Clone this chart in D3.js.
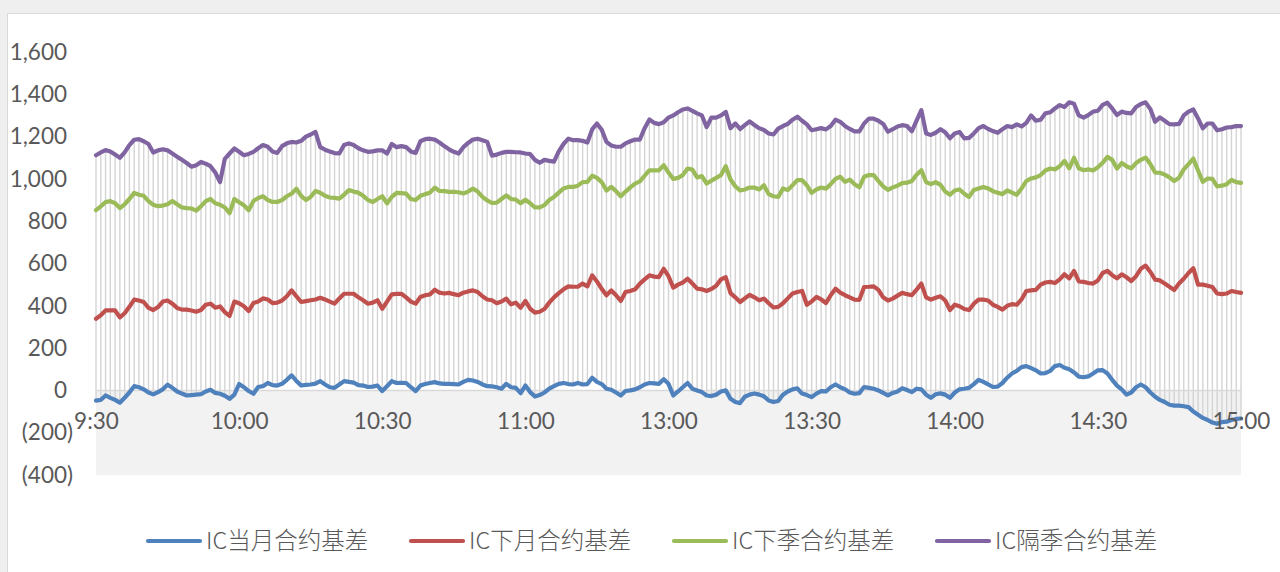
<!DOCTYPE html>
<html><head><meta charset="utf-8">
<script src="https://cdn.jsdelivr.net/npm/d3@7"></script>
<style>
html,body{margin:0;padding:0;background:#efefef;}
svg{display:block;}
</style>
</head><body>
<svg id="chart" width="1280" height="572"></svg>
<script>
// ---- data ----
const seriesNames = ["IC当月合约基差", "IC下月合约基差", "IC下季合约基差", "IC隔季合约基差"];
const tickIndex = [0, 30, 60, 90, 120, 150, 180, 210, 240];
const tickLabels = ["9:30", "10:00", "10:30", "11:00", "13:00", "13:30", "14:00", "14:30", "15:00"];
const yTicks = [-400, -200, 0, 200, 400, 600, 800, 1000, 1200, 1400, 1600];

const currentMonth = [
-48,-45,-24,-35,-45,-58,-35,-10,20,15,
5,-10,-19,-8,5,27,12,-5,-15,-24,
-22,-20,-18,-5,3,-12,-16,-25,-40,-20,
30,15,-3,-16,16,20,35,25,23,31,
50,71,45,23,26,28,32,44,28,15,
12,28,44,40,37,25,23,16,18,23,
-3,20,44,35,36,35,15,-3,23,30,
35,39,33,31,31,30,28,40,50,47,
40,28,20,19,15,8,31,15,12,-13,
23,-8,-29,-22,-10,8,20,31,35,30,
28,35,28,30,60,40,30,8,3,-10,
-24,-3,0,5,15,28,35,33,31,53,
31,-24,-5,15,35,8,0,-8,-24,-27,
-20,-5,0,-40,-55,-60,-30,-20,-15,-20,
-28,-48,-55,-50,-20,-5,5,10,-15,-22,
-32,-15,-3,-5,15,28,15,5,-10,-16,
-13,16,12,8,0,-12,-24,-12,-5,10,
2,-8,8,5,-20,-35,-18,-14,-20,-35,
-10,5,8,12,30,50,40,28,16,18,
35,60,80,92,110,115,105,95,80,82,
92,115,120,107,100,85,65,62,66,80,
95,96,80,50,23,5,-20,-10,15,28,
15,-10,-30,-45,-55,-68,-72,-72,-75,-79,
-100,-115,-130,-140,-152,-158,-150,-148,-140,-135,
-133];

const nextMonth = [
339,355,378,378,378,345,365,395,429,425,
418,390,380,394,420,425,410,390,382,382,
378,372,380,405,410,391,397,370,352,420,
412,398,375,413,420,435,430,413,415,425,
445,473,445,418,422,426,430,438,430,420,
410,435,457,457,457,440,426,410,415,426,
386,420,454,456,457,440,420,410,442,450,
454,476,462,458,461,455,450,462,468,473,
465,445,430,426,412,420,434,407,415,391,
423,386,368,372,385,415,440,460,478,492,
490,490,505,492,544,515,480,450,473,450,
423,465,470,478,505,525,544,538,536,575,
540,486,500,510,528,505,481,478,470,480,
495,525,535,460,440,418,435,452,440,426,
434,412,392,395,412,435,458,465,470,405,
420,442,430,413,450,481,462,450,440,429,
428,489,490,492,475,440,425,434,448,461,
455,450,476,505,440,429,438,445,425,380,
405,398,385,380,410,429,429,425,405,395,
382,400,408,405,430,470,473,475,500,510,
513,508,525,549,530,565,515,513,508,505,
520,555,565,545,530,549,535,517,540,575,
590,560,524,520,505,490,475,505,528,555,
578,500,500,495,489,458,455,458,470,465,
461];

const nextQuarter = [
852,870,890,895,885,862,880,905,934,925,
920,895,878,871,874,880,895,880,865,862,
860,850,870,895,905,885,878,865,838,905,
890,875,852,895,910,918,900,891,891,900,
918,930,954,920,900,915,943,935,920,912,
910,907,925,947,940,935,920,900,891,905,
918,884,915,934,933,930,905,900,920,928,
935,959,943,942,939,939,937,931,940,954,
940,915,898,886,888,905,922,905,902,885,
902,885,865,865,876,900,915,935,955,962,
962,968,985,986,1015,1005,985,945,962,942,
918,940,960,978,988,1015,1041,1040,1040,1065,
1030,1000,1005,1018,1049,1044,1007,1013,978,992,
1005,1018,1060,997,965,945,950,959,959,950,
970,928,918,915,955,947,970,994,994,970,
934,950,959,954,975,1000,1010,986,997,975,
960,1010,1018,1018,990,965,948,960,968,980,
982,990,1020,1041,985,975,985,972,940,925,
945,950,930,915,948,955,962,955,942,935,
928,945,935,925,955,990,1002,1007,1018,1040,
1049,1045,1060,1085,1050,1100,1050,1041,1045,1040,
1055,1076,1104,1090,1049,1075,1060,1050,1075,1090,
1101,1070,1030,1029,1020,1007,990,1005,1045,1070,
1096,1040,986,1002,1000,965,968,975,995,985,
981];

const farQuarter = [
1112,1125,1136,1130,1115,1100,1125,1160,1185,1188,
1178,1165,1125,1135,1140,1135,1120,1105,1090,1075,
1058,1065,1080,1072,1060,1030,985,1095,1120,1144,
1128,1112,1118,1128,1145,1160,1152,1130,1123,1155,
1168,1175,1172,1180,1200,1210,1222,1150,1138,1130,
1122,1120,1160,1168,1160,1145,1135,1128,1130,1135,
1135,1120,1165,1150,1155,1150,1130,1123,1178,1188,
1190,1186,1172,1155,1140,1128,1120,1150,1170,1186,
1190,1183,1175,1110,1115,1123,1128,1128,1126,1125,
1120,1117,1090,1076,1090,1085,1082,1130,1165,1190,
1183,1183,1180,1172,1234,1262,1232,1175,1158,1152,
1152,1168,1178,1186,1186,1240,1281,1265,1259,1268,
1290,1300,1315,1328,1333,1322,1310,1300,1245,1290,
1290,1300,1317,1240,1262,1236,1254,1272,1255,1240,
1231,1215,1210,1238,1250,1260,1280,1294,1275,1258,
1230,1235,1240,1234,1250,1280,1270,1250,1236,1225,
1225,1262,1285,1285,1275,1260,1223,1235,1248,1254,
1250,1225,1275,1325,1215,1208,1218,1235,1220,1192,
1215,1222,1192,1194,1215,1240,1250,1236,1226,1218,
1235,1250,1245,1258,1248,1265,1300,1275,1280,1310,
1315,1333,1349,1340,1362,1355,1300,1290,1302,1318,
1322,1350,1360,1333,1302,1318,1312,1310,1340,1354,
1362,1330,1270,1291,1275,1259,1258,1260,1300,1318,
1328,1286,1239,1262,1262,1230,1235,1243,1245,1250,
1250];

const colors = ["#4F81BD", "#C0504D", "#9BBB59", "#8064A2"];

// ---- drawing ----
const series = [currentMonth, nextMonth, nextQuarter, farQuarter];
const n = currentMonth.length;
const svg = d3.select("#chart");
const font = "Lato, 'Noto Sans', sans-serif";
const textColor = "#595959";

// chart area
svg.append("rect").attr("x", 7.5).attr("y", 13.5).attr("width", 1290).attr("height", 600)
  .attr("fill", "#ffffff").attr("stroke", "#d9d9d9").attr("stroke-width", 1);

const x = d3.scaleLinear().domain([0, n - 1]).range([96, 1241]);
const y = d3.scaleLinear().domain([-400, 1600]).range([475, 52]);

// lower band
svg.append("rect").attr("x", x(0)).attr("y", y(0)).attr("width", x(n - 1) - x(0))
  .attr("height", y(-400) - y(0)).attr("fill", "#f2f2f2");

// high-low lines
const idx = d3.range(n);
svg.append("g").selectAll("line").data(idx).join("line")
  .attr("x1", i => x(i)).attr("x2", i => x(i))
  .attr("y1", i => y(d3.max(series, s => s[i])))
  .attr("y2", i => y(d3.min(series, s => s[i])))
  .attr("stroke", "#d4d4d4").attr("stroke-width", 1.4);

// zero line
svg.append("line").attr("x1", x(0)).attr("x2", x(n - 1)).attr("y1", y(0)).attr("y2", y(0))
  .attr("stroke", "#d9d9d9").attr("stroke-width", 1.5);

// series lines
const line = d3.line().x((d, i) => x(i)).y(d => y(d));
series.forEach((s, k) => {
  svg.append("path").datum(s).attr("d", line).attr("fill", "none")
    .attr("stroke", colors[k]).attr("stroke-width", 4.2)
    .attr("stroke-linejoin", "round").attr("stroke-linecap", "round");
});

// y axis labels
const fmt = d3.format(",");
const yAxis = d3.axisLeft(y).tickValues(yTicks).tickSize(0)
  .tickFormat(d => d < 0 ? "(" + fmt(-d) + ")" : fmt(d));
const yg = svg.append("g").attr("transform", "translate(96,0)").call(yAxis);
yg.select(".domain").remove();
yg.selectAll("text").attr("x", d => d < 0 ? -23 : -29)
  .attr("fill", textColor).style("font-family", font).style("font-size", "22.5px")
  .style("font-weight", 400);

// x axis labels
const xAxis = d3.axisBottom(x).tickValues(tickIndex).tickSize(0)
  .tickFormat((d, i) => tickLabels[i]);
const xg = svg.append("g").attr("transform", `translate(0,${y(0)})`).call(xAxis);
xg.select(".domain").remove();
xg.selectAll("text").attr("y", 31).attr("dy", "0.35em")
  .attr("fill", textColor).style("font-family", font).style("font-size", "22.5px")
  .style("font-weight", 400);

// legend
const legend = svg.append("g").attr("transform", "translate(148,541)");
seriesNames.forEach((name, k) => {
  const g = legend.append("g").attr("transform", `translate(${k * 263},0)`);
  g.append("line").attr("x1", 0).attr("x2", 52).attr("y1", 0).attr("y2", 0)
    .attr("stroke", colors[k]).attr("stroke-width", 4.2).attr("stroke-linecap", "round");
  g.append("text").attr("x", 58).attr("y", 0).attr("dy", "0.35em").text(name)
    .attr("fill", textColor)
    .style("font-family", "'Noto Sans CJK SC', sans-serif").style("font-size", "23.5px")
    .style("font-weight", 300);
});
</script>
</body></html>
